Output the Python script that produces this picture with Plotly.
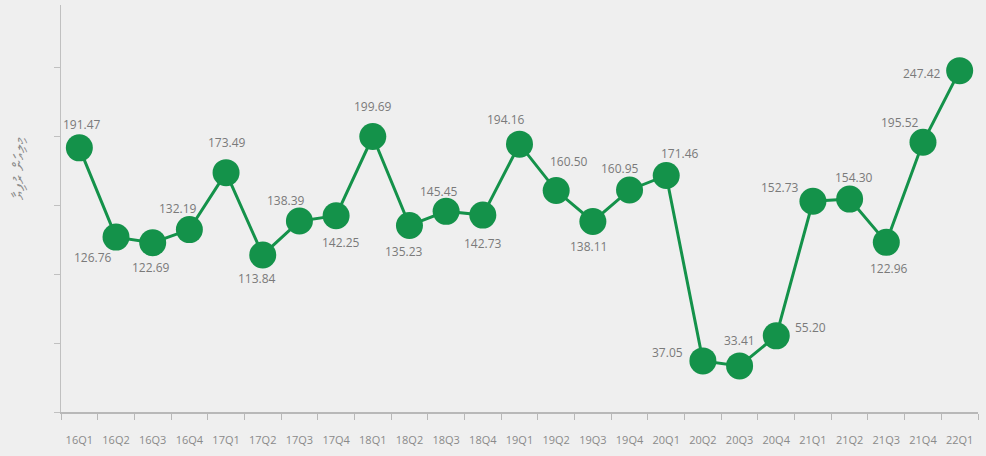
import plotly.graph_objects as go

quarters = ["16Q1", "16Q2", "16Q3", "16Q4", "17Q1", "17Q2", "17Q3", "17Q4",
            "18Q1", "18Q2", "18Q3", "18Q4", "19Q1", "19Q2", "19Q3", "19Q4",
            "20Q1", "20Q2", "20Q3", "20Q4", "21Q1", "21Q2", "21Q3", "21Q4", "22Q1"]
values = [191.47, 126.76, 122.69, 132.19, 173.49, 113.84, 138.39, 142.25,
          199.69, 135.23, 145.45, 142.73, 194.16, 160.50, 138.11, 160.95,
          171.46, 37.05, 33.41, 55.20, 152.73, 154.30, 122.96, 195.52, 247.42]
y_title = "މިލިއަން ރުފިޔާ"

# label offsets in pixels (dx right, dy up) — styling only
label_dx = [3, -23, -2, -11, 1, -6, -13, 5, 0, -5, -7, 0, -14, 13, -4, -10, 14, -35, 0, 34, -33, 4, 3, -23, -38]
label_dy = [23, -20, -25, 21, 30, -24, 21, -27, 30, -26, 20, -28, 25, 29, -25, 21, 22, 8, 25, 8, 14, 22, -26, 20, -3]

green = "#14924a"
fig = go.Figure(go.Scatter(
    x=quarters, y=values, mode="lines+markers",
    line=dict(color=green, width=3),
    marker=dict(color=green, size=27),
    cliponaxis=False,
    hoverinfo="x+y",
))

for q, v, dx, dy in zip(quarters, values, label_dx, label_dy):
    fig.add_annotation(x=q, y=v, text=f"{v:.2f}", showarrow=False,
                       xshift=dx, yshift=dy,
                       font=dict(family="Open Sans", size=12, color="#7a7a7a"))

# vertical axis title
fig.add_annotation(x=-0.047, y=0.6, xref="paper", yref="paper", text=y_title,
                   textangle=-90, showarrow=False, xanchor="center", yanchor="middle",
                   font=dict(size=15, color="#8a8a8a"))

fig.update_layout(
    width=986, height=456,
    margin=dict(l=61, r=8, t=5, b=44),
    paper_bgcolor="#efefef", plot_bgcolor="#efefef",
    showlegend=False,
    font=dict(family="Open Sans", color="#888888"),
    xaxis=dict(type="category", showgrid=False, showline=True, linecolor="#b8b8b8",
               linewidth=2, ticks="outside", tickson="boundaries", ticklen=6,
               tickcolor="#b8b8b8", tickangle=0, ticklabelstandoff=17,
               tickfont=dict(family="Open Sans", size=11, color="#8a8a8a"),
               range=[-0.5, 24.5], zeroline=False, automargin=False),
    yaxis=dict(range=[0, 295], showgrid=False, showline=True, linecolor="#c0c0c0",
               linewidth=1, ticks="outside", ticklen=6, tickcolor="#c0c0c0",
               dtick=50, showticklabels=False, zeroline=False, automargin=False),
)

fig.write_html("out.html", config={"displayModeBar": False},
               post_script="document.body.style.margin='0';")
